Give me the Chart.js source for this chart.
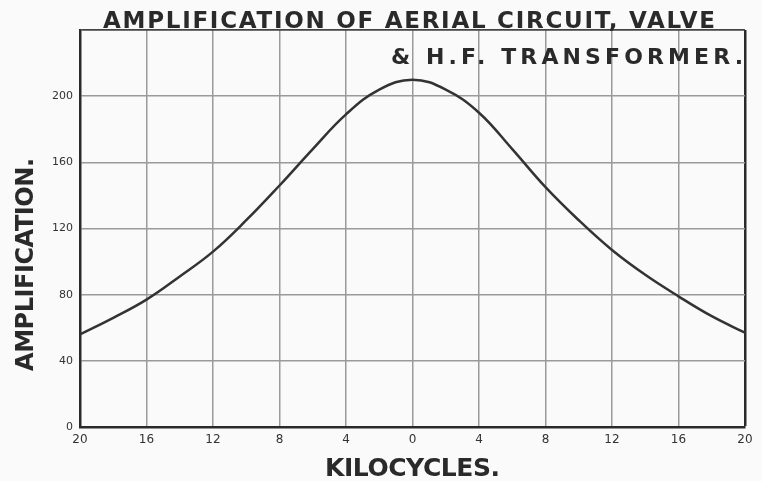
<!DOCTYPE html>
<html>
<head>
<meta charset="utf-8">
<script src="https://cdn.jsdelivr.net/npm/chart.js@4"></script>
<style>
  html, body { margin: 0; padding: 0; background: #fafafa; }
  #wrap { width: 762px; height: 481px; }
</style>
</head>
<body>
<div id="wrap"><canvas id="chart" width="762" height="481"></canvas></div>
<script>
// values
const kc = [-20, -18, -16, -14, -12, -10, -8, -6, -4, -2, 0, 2, 4, 6, 8, 10, 12, 14, 16, 18, 20];
const amplification = [56, 66, 77, 91, 106, 125, 146, 168, 189, 204, 210, 204, 190, 168, 145, 125, 107, 92, 79, 67, 57];
const xTicks = [-20, -16, -12, -8, -4, 0, 4, 8, 12, 16, 20];
const yTicks = [0, 40, 80, 120, 160, 200];

const titleLine1 = 'AMPLIFICATION OF AERIAL CIRCUIT, VALVE';
const titleLine2 = '& H.F. TRANSFORMER.';
const yTitle = 'AMPLIFICATION.';
const xTitle = 'KILOCYCLES.';

const ink = '#2a2a2a';

// draw text stretched to a given width with letter spacing
function fitText(ctx, text, x, y, width) {
    ctx.letterSpacing = '0px';
    const w = ctx.measureText(text).width;
    const sp = (width - w) / (text.length - 1);
    ctx.letterSpacing = sp + 'px';
    ctx.fillText(text, x, y);
    ctx.letterSpacing = '0px';
}

const labels = {
    id: 'labels',
    afterDraw(chart) {
        const ctx = chart.ctx;
        ctx.save();
        ctx.fillStyle = ink;
        ctx.textBaseline = 'alphabetic';
        ctx.textAlign = 'left';
        ctx.fontStretch = 'condensed';

        ctx.font = 'bold 23px "DejaVu Sans"';
        fitText(ctx, titleLine1, 103, 28, 612);
        ctx.font = 'bold 22px "DejaVu Sans"';
        fitText(ctx, titleLine2, 391, 64, 352);

        ctx.font = 'bold 25px "DejaVu Sans"';
        fitText(ctx, xTitle, 325, 476, 175);

        ctx.font = 'bold 24px "DejaVu Sans"';
        ctx.translate(33, 371);
        ctx.rotate(-Math.PI / 2);
        fitText(ctx, yTitle, 0, 0, 213);
        ctx.restore();
    }
};

new Chart(document.getElementById('chart'), {
    type: 'line',
    data: {
        datasets: [{
            data: kc.map((k, i) => ({ x: k, y: amplification[i] })),
            borderColor: '#333',
            borderWidth: 2.5,
            pointRadius: 0,
            tension: 0.4,
            fill: false
        }]
    },
    options: {
        responsive: false,
        animation: false,
        layout: { padding: { top: 30, right: 17, left: 0, bottom: 0 } },
        plugins: { legend: { display: false }, tooltip: { enabled: false } },
        scales: {
            x: {
                type: 'linear',
                min: -20,
                max: 20,
                afterBuildTicks: s => { s.ticks = xTicks.map(v => ({ value: v })); },
                afterFit: s => { s.height = 54; },
                border: { color: ink, width: 2.5 },
                grid: {
                    drawTicks: false,
                    color: c => (c.tick && c.tick.value === 20) ? ink : '#9a9a9a',
                    lineWidth: c => (c.tick && c.tick.value === 20) ? 2.5 : 1.5
                },
                ticks: {
                    autoSkip: false,
                    maxRotation: 0,
                    padding: 6,
                    color: '#333',
                    font: { family: 'DejaVu Sans', size: 12 },
                    callback: v => String(Math.abs(v))
                }
            },
            y: {
                min: 0,
                max: 240,
                afterBuildTicks: s => { s.ticks = yTicks.concat([240]).map(v => ({ value: v })); },
                afterFit: s => { s.width = 80; },
                border: { color: ink, width: 2.5 },
                grid: {
                    drawTicks: false,
                    color: c => (c.tick && c.tick.value === 240) ? '#444' : '#9a9a9a',
                    lineWidth: c => (c.tick && c.tick.value === 240) ? 1.8 : 1.5
                },
                ticks: {
                    padding: 7,
                    color: '#333',
                    font: { family: 'DejaVu Sans', size: 11 },
                    callback: v => v === 240 ? '' : String(v)
                }
            }
        }
    },
    plugins: [labels]
});
</script>
</body>
</html>
